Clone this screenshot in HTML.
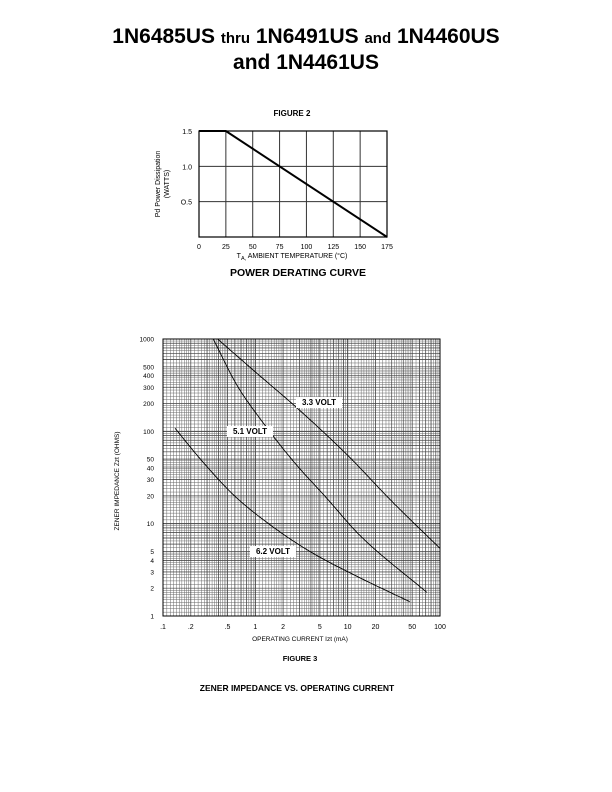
<!DOCTYPE html>
<html><head><meta charset="utf-8"><style>
body{margin:0;background:#fff;width:612px;height:792px;overflow:hidden;font-family:"Liberation Sans",Arial,sans-serif}
svg{position:absolute;left:0;top:0}
</style></head><body>
<svg width="612" height="792">
<g font-weight="bold" text-anchor="middle" fill="#000">
<text x="306" y="43" font-size="21">1N6485US <tspan font-size="15">thru</tspan> 1N6491US <tspan font-size="15">and</tspan> 1N4460US</text>
<text x="306" y="69" font-size="21">and 1N4461US</text>
</g>
<g id="c1"></g>
<g id="c2"></g>
</svg>
<script>
const NS="http://www.w3.org/2000/svg";
function mk(p,t,a,txt){const e=document.createElementNS(NS,t);for(const k in a)e.setAttribute(k,a[k]);if(txt!==undefined)e.textContent=txt;p.appendChild(e);return e;}
// ---- Figure 2 data ----
const tempTicks=[0,25,50,75,100,125,150,175];
const powerTicks=[0.5,1.0,1.5];
const powerTickLabels=["O.5","1.0","1.5"];
const derateTemps=[0,25,175];
const deratePower=[1.5,1.5,0];
// ---- Figure 3 data ----
const currentTicks=[0.1,0.2,0.5,1,2,5,10,20,50,100];
const currentTickLabels=[".1",".2",".5","1","2","5","10","20","50","100"];
const impTicks=[1,2,3,4,5,10,20,30,40,50,100,200,300,400,500,1000];
const v33I=[0.39,1,3,10,30,100];
const v33Z=[1000,440,170,55,17.5,5.4];
const v51I=[0.35,0.63,1.12,2.6,5.9,13.5,72];
const v51Z=[1000,318,138,47,19,7.5,1.8];
const v62I=[0.135,0.25,0.58,1.45,3.9,13.5,47];
const v62Z=[108,51,20.5,9.7,5,2.6,1.43];
const seriesLabels=["3.3 VOLT","5.1 VOLT","6.2 VOLT"];

// Figure 2
(function(){
const g=document.getElementById('c1');
const L=199,R=387,T=131,B=237;
const x=t=>L+(t-0)/175*(R-L), y=p=>B-p/1.5*(B-T);
let e=mk(g,'text',{x:292,y:116,'font-size':8,'font-weight':'bold','text-anchor':'middle'},'FIGURE 2');

tempTicks.forEach(t=>{
 e=mk(g,'line',{x1:x(t),x2:x(t),y1:T,y2:B,stroke:'#333','stroke-width':1});
 
 e=mk(g,'text',{x:x(t),y:249,'font-size':7,'text-anchor':'middle'},String(t));
 
});
powerTicks.forEach((p,i)=>{
 e=mk(g,'line',{x1:L,x2:R,y1:y(p),y2:y(p),stroke:'#333','stroke-width':1});
 
 e=mk(g,'text',{x:L-7,y:y(p)+3,'font-size':7,'text-anchor':'end'},powerTickLabels[i]);
 
});
e=mk(g,'rect',{x:L,y:T,width:R-L,height:B-T,fill:'none',stroke:'#000','stroke-width':1.2});

e=mk(g,'polyline',{points:derateTemps.map((t,i)=>x(t)+','+y(deratePower[i])).join(' '),fill:'none',stroke:'#000','stroke-width':2});

e=mk(g,'text',{x:292,y:258,'font-size':7,'text-anchor':'middle'});
e.innerHTML='T<tspan font-size="5.5" dy="2">A,</tspan><tspan dy="-2"> AMBIENT TEMPERATURE (°C)</tspan>';

e=mk(g,'text',{transform:'translate(160,184) rotate(-90)','font-size':7,'text-anchor':'middle'},'Pd  Power Dissipation');

e=mk(g,'text',{transform:'translate(169,184) rotate(-90)','font-size':7,'text-anchor':'middle'},'(WATTS)');

e=mk(g,'text',{x:298,y:276,'font-size':10.5,'font-weight':'bold','text-anchor':'middle'},'POWER DERATING CURVE');

})();

// Figure 3
(function(){
const g=document.getElementById('c2');
const L=163,R=440,T=339,B=616;
const x=v=>L+(Math.log10(v)+1)/3*(R-L), y=v=>B-Math.log10(v)/3*(B-T);
const minorX=[],minorY=[];
for(let d=0;d<3;d++){for(let m=1;m<10;m+=(m<2?0.1:m<5?0.2:0.5)){minorX.push(0.1*Math.pow(10,d)*m);minorY.push(Math.pow(10,d)*m);}}
let e;
minorX.forEach(v=>{e=mk(g,'line',{x1:x(v),x2:x(v),y1:T,y2:B,stroke:'#6a6a6a','stroke-width':0.5});
 });
minorY.forEach(v=>{e=mk(g,'line',{x1:L,x2:R,y1:y(v),y2:y(v),stroke:'#6a6a6a','stroke-width':0.5});
 });
for(let d=0;d<3;d++)for(let m=1;m<10;m++){
 e=mk(g,'line',{x1:x(0.1*Math.pow(10,d)*m),x2:x(0.1*Math.pow(10,d)*m),y1:T,y2:B,stroke:'#444','stroke-width':m==1?1:0.7});
 
 e=mk(g,'line',{x1:L,x2:R,y1:y(Math.pow(10,d)*m),y2:y(Math.pow(10,d)*m),stroke:'#444','stroke-width':m==1?1:0.7});
 
}
e=mk(g,'rect',{x:L,y:T,width:R-L,height:B-T,fill:'none',stroke:'#000','stroke-width':1});

currentTicks.forEach((v,i)=>{e=mk(g,'text',{x:x(v),y:629,'font-size':7,'text-anchor':'middle'},currentTickLabels[i]);
 });
impTicks.forEach(v=>{e=mk(g,'text',{x:L-9,y:y(v)+2.5,'font-size':6.5,'text-anchor':'end'},String(v));
 });
// monotone cubic interpolation in log-log space
function curve(I,Z,name){
 const X=I.map(Math.log10),Y=Z.map(Math.log10),n=X.length;
 const dl=[],m=[];
 for(let i=0;i<n-1;i++)dl.push((Y[i+1]-Y[i])/(X[i+1]-X[i]));
 m[0]=dl[0];m[n-1]=dl[n-2];
 for(let i=1;i<n-1;i++)m[i]=(dl[i-1]*dl[i]<=0)?0:(dl[i-1]+dl[i])/2;
 const pts=[];
 for(let i=0;i<n-1;i++){const h=X[i+1]-X[i];
  for(let k=0;k<=20;k++){const t=k/20,t2=t*t,t3=t2*t;
   const v=(2*t3-3*t2+1)*Y[i]+(t3-2*t2+t)*h*m[i]+(-2*t3+3*t2)*Y[i+1]+(t3-t2)*h*m[i+1];
   const xv=X[i]+t*h;
   pts.push(x(Math.pow(10,xv)).toFixed(2)+','+y(Math.pow(10,v)).toFixed(2));}}
 const el=mk(g,'polyline',{points:pts.join(' '),fill:'none',stroke:'#000','stroke-width':0.9});
 
}
curve(v33I,v33Z,'curve-3-3-volt');curve(v51I,v51Z,'curve-5-1-volt');curve(v62I,v62Z,'curve-6-2-volt');
const lab=[[319,405],[250,434],[273,554]];
seriesLabels.forEach((s,i)=>{
 e=mk(g,'rect',{x:lab[i][0]-23,y:lab[i][1]-8,width:46,height:11,fill:'#fff'});
 
 e=mk(g,'text',{x:lab[i][0],y:lab[i][1],'font-size':8,'font-weight':'bold','text-anchor':'middle'},s);
 
});
e=mk(g,'text',{x:300,y:641,'font-size':6.5,'text-anchor':'middle'},'OPERATING CURRENT Izt (mA)');

e=mk(g,'text',{transform:'translate(119,481) rotate(-90)','font-size':6.5,'text-anchor':'middle'},'ZENER IMPEDANCE Zzt (OHMS)');

e=mk(g,'text',{x:300,y:661,'font-size':7.5,'font-weight':'bold','text-anchor':'middle'},'FIGURE 3');

e=mk(g,'text',{x:297,y:691,'font-size':8.5,'font-weight':'bold','text-anchor':'middle'},'ZENER IMPEDANCE VS. OPERATING CURRENT');

})();
</script>
</body></html>
